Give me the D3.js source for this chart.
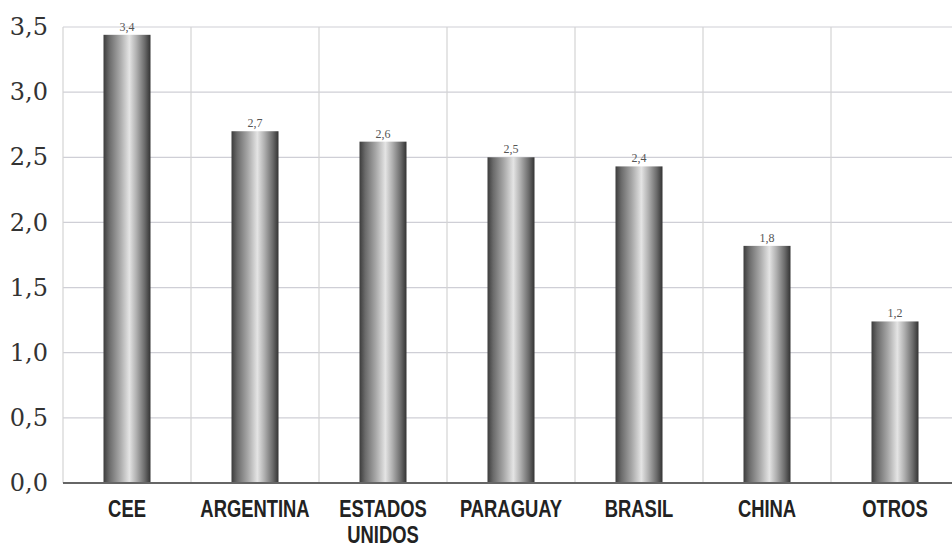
<!DOCTYPE html>
<html>
<head>
<meta charset="utf-8">
<script src="https://cdn.jsdelivr.net/npm/d3@7"></script>
<style>
  body { margin: 0; background: #fff; }
  svg { display: block; }
</style>
</head>
<body>
<div id="chart"></div>
<script>
// Données
const categories = ["CEE", "ARGENTINA", "ESTADOS UNIDOS", "PARAGUAY", "BRASIL", "CHINA", "OTROS"];
const values = [3.44, 2.70, 2.62, 2.50, 2.43, 1.82, 1.24];
const valueLabels = ["3,4", "2,7", "2,6", "2,5", "2,4", "1,8", "1,2"];
const yTicks = [0, 0.5, 1.0, 1.5, 2.0, 2.5, 3.0, 3.5];

const W = 952, H = 550;
const margin = { left: 63, top: 27, bottom: 67 };
const plotW = 128 * categories.length;
const plotH = H - margin.top - margin.bottom;

const svg = d3.select("#chart").append("svg")
  .attr("width", W).attr("height", H);

// dégradé "cylindre"
const grad = svg.append("defs").append("linearGradient")
  .attr("id", "cyl").attr("x1", "0%").attr("x2", "100%");
[[0, "#3c3c3c"], [0.12, "#6a6a6a"], [0.35, "#a8a8a8"], [0.55, "#e4e4e4"], [0.7, "#b0b0b0"], [0.88, "#6a6a6a"], [1, "#333"]]
  .forEach(([o, c]) => grad.append("stop").attr("offset", o).attr("stop-color", c));

const g = svg.append("g").attr("transform", `translate(${margin.left},${margin.top})`);

// échelles
const x = d3.scaleBand().domain(categories).range([0, plotW]).paddingInner(0).paddingOuter(0);
const y = d3.scaleLinear().domain([0, 3.5]).range([plotH, 0]);

// grille horizontale
g.append("g")
  .selectAll("line").data(yTicks.slice(1)).join("line")
  .attr("x1", 0).attr("x2", plotW)
  .attr("y1", d => y(d)).attr("y2", d => y(d))
  .attr("stroke", "#cfcfd6").attr("stroke-width", 1.2);

// grille verticale
g.append("g")
  .selectAll("line").data(categories).join("line")
  .attr("x1", d => x(d)).attr("x2", d => x(d))
  .attr("y1", 0).attr("y2", plotH)
  .attr("stroke", "#d4d4d4").attr("stroke-width", 1.2);

// axe Y
g.append("g")
  .call(d3.axisLeft(y).tickValues(yTicks).tickSize(0).tickPadding(15)
    .tickFormat(d => d3.format(".1f")(d).replace(".", ",")))
  .call(a => a.select(".domain").remove())
  .selectAll("text")
  .attr("font-family", "'DejaVu Serif', 'Liberation Serif', serif")
  .attr("font-size", 24)
  .attr("fill", "#333");

// barres
const bw = 47;
g.append("g").selectAll("rect").data(categories).join("rect")
  .attr("x", d => x(d) + x.bandwidth() / 2 - bw / 2)
  .attr("width", bw)
  .attr("y", (d, i) => y(values[i]))
  .attr("height", (d, i) => y(0) - y(values[i]))
  .attr("fill", "url(#cyl)");

// étiquettes de valeurs
g.append("g").selectAll("text").data(categories).join("text")
  .attr("x", d => x(d) + x.bandwidth() / 2)
  .attr("y", (d, i) => y(values[i]) - 4)
  .attr("text-anchor", "middle")
  .attr("font-family", "'Liberation Serif', 'DejaVu Serif', serif")
  .attr("font-size", 12)
  .attr("fill", "#555")
  .text((d, i) => valueLabels[i]);

// axe X (ligne de base)
g.append("line")
  .attr("x1", 0).attr("x2", plotW)
  .attr("y1", y(0)).attr("y2", y(0))
  .attr("stroke", "#666").attr("stroke-width", 2);

// étiquettes catégories (police condensée simulée)
const labels = g.append("g").selectAll("g").data(categories).join("g")
  .attr("transform", d => `translate(${x(d) + x.bandwidth() / 2},${y(0) + 34}) scale(0.8,1)`);

labels.append("text")
  .attr("text-anchor", "middle")
  .attr("font-family", "'Liberation Sans', 'DejaVu Sans', sans-serif")
  .attr("font-weight", "bold")
  .attr("font-size", 23)
  .attr("fill", "#222")
  .each(function (d) {
    const t = d3.select(this);
    d.split(" ").forEach((w, i) => {
      t.append("tspan")
        .attr("x", 0)
        .attr("dy", i === 0 ? 0 : 26)
        .text(w);
    });
  });
</script>
</body>
</html>
